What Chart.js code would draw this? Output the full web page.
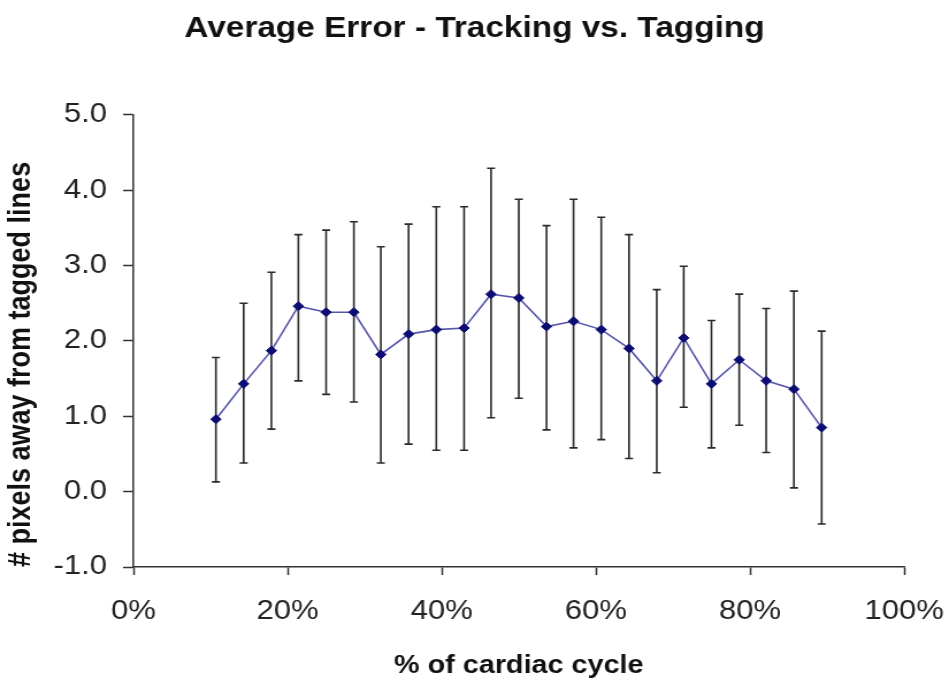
<!DOCTYPE html>
<html>
<head>
<meta charset="utf-8">
<script src="https://cdn.jsdelivr.net/npm/chart.js@4/dist/chart.umd.min.js"></script>
<style>
  html, body { margin: 0; padding: 0; background: #ffffff; overflow: hidden; }
  #c { display: block; }
</style>
</head>
<body>
<canvas id="c" width="825" height="683" style="width:949px;height:683px;"></canvas>
<script>
// ---- data ----
const cyclePct = [10.7, 14.3, 17.9, 21.4, 25.0, 28.6, 32.1, 35.7, 39.3, 42.9, 46.4, 50.0,
                  53.6, 57.1, 60.7, 64.3, 67.9, 71.4, 75.0, 78.6, 82.1, 85.7, 89.3];
const avgError = [0.96, 1.43, 1.87, 2.46, 2.38, 2.38, 1.82, 2.09, 2.15, 2.17, 2.62, 2.57,
                  2.19, 2.26, 2.15, 1.90, 1.47, 2.04, 1.43, 1.75, 1.47, 1.36, 0.85];
const errUpper = [1.78, 2.50, 2.91, 3.41, 3.47, 3.58, 3.25, 3.55, 3.78, 3.78, 4.29, 3.88,
                  3.53, 3.88, 3.64, 3.41, 2.68, 2.99, 2.27, 2.62, 2.43, 2.66, 2.13];
const errLower = [0.13, 0.38, 0.83, 1.47, 1.29, 1.19, 0.38, 0.63, 0.55, 0.55, 0.98, 1.24,
                  0.82, 0.58, 0.69, 0.44, 0.25, 1.12, 0.58, 0.88, 0.52, 0.05, -0.43];
const xTickValues = [0, 20, 40, 60, 80, 100];
const yTickValues = [-1, 0, 1, 2, 3, 4, 5];
const chartTitle = 'Average Error - Tracking vs. Tagging';
const xTitle = '% of cardiac cycle';
const yTitle = '# pixels away from tagged lines';

const points = cyclePct.map((x, i) => ({ x: x, y: avgError[i] }));

const errorBars = {
  id: 'errorBars',
  beforeDatasetsDraw(chart) {
    const ctx = chart.ctx;
    const xs = chart.scales.x, ys = chart.scales.y;
    ctx.save();
    ctx.strokeStyle = '#2a2a2a';
    ctx.lineWidth = 1.6;
    const cap = 3.5;
    cyclePct.forEach((x, i) => {
      const px = xs.getPixelForValue(x);
      const pt = ys.getPixelForValue(errUpper[i]);
      const pb = ys.getPixelForValue(errLower[i]);
      ctx.beginPath();
      ctx.moveTo(px, pt); ctx.lineTo(px, pb);
      ctx.moveTo(px - cap, pt); ctx.lineTo(px + cap, pt);
      ctx.moveTo(px - cap, pb); ctx.lineTo(px + cap, pb);
      ctx.stroke();
    });
    ctx.restore();
  }
};

Chart.defaults.font.family = 'Arial, "Liberation Sans", Helvetica, sans-serif';
Chart.defaults.color = '#111111';

new Chart(document.getElementById('c'), {
  type: 'line',
  data: {
    datasets: [{
      data: points,
      borderColor: '#5656ac',
      borderWidth: 1.6,
      pointStyle: 'rectRot',
      pointRadius: 4.5,
      pointBackgroundColor: '#0c0c72',
      pointBorderColor: '#0c0c72',
      pointBorderWidth: 1,
      tension: 0,
      fill: false
    }]
  },
  options: {
    responsive: false,
    animation: false,
    devicePixelRatio: 1,
    layout: { padding: { left: 0, right: 0, top: 0, bottom: 0 } },
    plugins: {
      legend: { display: false },
      tooltip: { enabled: false },
      title: {
        display: true,
        text: chartTitle,
        color: '#111111',
        font: { size: 29, weight: 'bold' },
        padding: { top: 12, bottom: 68 }
      }
    },
    scales: {
      x: {
        type: 'linear',
        min: 0, max: 100,
        afterBuildTicks(scale) { scale.ticks = xTickValues.map(v => ({ value: v })); },
        ticks: {
          callback: v => v + '%',
          font: { size: 27 },
          color: '#222222',
          padding: 20,
          maxRotation: 0
        },
        grid: { display: true, drawOnChartArea: false, drawTicks: true, tickLength: 8, tickWidth: 1.5, tickColor: '#333333' },
        border: { display: true, color: '#333333', width: 1.5 },
        title: { display: true, text: xTitle, font: { size: 25, weight: 'bold' }, color: '#111111', padding: { top: 0, bottom: 2 } },
        afterFit(scale) { scale.height = 116; scale.paddingRight = 39; }
      },
      y: {
        min: -1, max: 5,
        afterBuildTicks(scale) { scale.ticks = yTickValues.map(v => ({ value: v })); },
        ticks: {
          callback: v => Number(v).toFixed(1),
          font: { size: 27 },
          color: '#222222',
          padding: 14
        },
        grid: { display: true, drawOnChartArea: false, drawTicks: true, tickLength: 9, tickWidth: 1.5, tickColor: '#333333' },
        border: { display: true, color: '#333333', width: 1.5 },
        title: { display: true, text: yTitle, align: 'start', font: { size: 27, weight: 'bold' }, color: '#111111', padding: { top: 2, bottom: 0 } },
        afterFit(scale) { scale.width = 116; }
      }
    }
  },
  plugins: [errorBars]
});
</script>
</body>
</html>
